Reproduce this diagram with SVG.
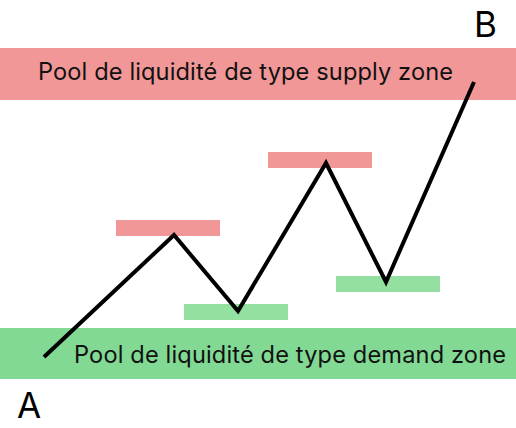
<svg xmlns="http://www.w3.org/2000/svg" width="516" height="428" viewBox="0 0 516 428">
<style>
.supply{fill:#f29797}
.demand{fill:#81d994}
.lsupply{fill:#f29797}
.ldemand{fill:#93e0a1}
.lbl{font-family:Inter,"Noto Sans",sans-serif;font-size:23.6px;fill:#111}
.pt{font-family:Inter,"Noto Sans",sans-serif;font-size:35px;fill:#000}
</style>
<rect width="516" height="428" fill="#fff"/>
<g id="supply-zone">
<rect class="supply" x="0" y="48" width="516" height="52"/>
<text class="lbl" x="38" y="80" textLength="415" lengthAdjust="spacing">Pool de liquidité de type supply zone</text>
</g>
<g id="demand-zone">
<rect class="demand" x="0" y="328" width="516" height="51"/>
</g>
<g id="level-s1"><rect class="lsupply" x="116" y="220" width="104" height="16"/></g>
<g id="level-s2"><rect class="lsupply" x="268" y="152" width="104" height="16"/></g>
<g id="level-d1"><rect class="ldemand" x="184" y="304" width="104" height="16"/></g>
<g id="level-d2"><rect class="ldemand" x="336" y="276" width="104" height="16"/></g>
<g id="connectors">
<polyline points="44,357 174,235 238,311 326,163 386,282 474,82" fill="none" stroke="#000" stroke-width="4"/>
</g>
<g id="demand-label">
<text class="lbl" x="74" y="363" textLength="432" lengthAdjust="spacing">Pool de liquidité de type demand zone</text>
</g>
<g id="point-a"><text class="pt" x="17" y="418">A</text></g>
<g id="point-b"><text class="pt" x="474" y="37">B</text></g>
</svg>
